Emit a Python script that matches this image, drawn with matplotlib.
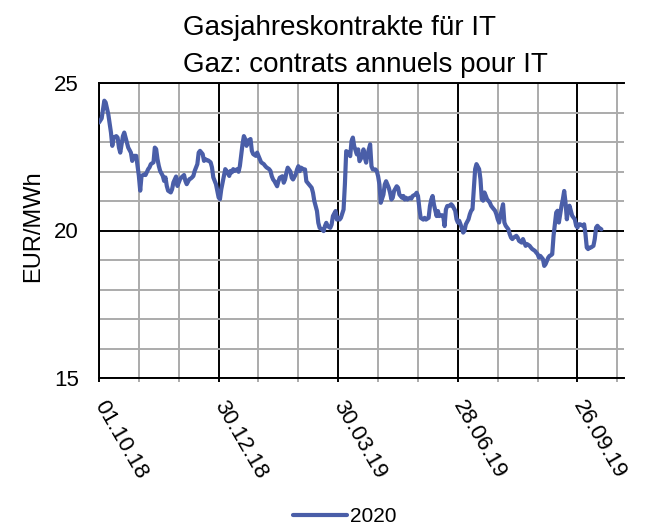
import matplotlib
matplotlib.use('Agg')
import matplotlib.pyplot as plt
import pandas as pd

plt.rcParams['font.family'] = ['Liberation Sans', 'DejaVu Sans']

# ---------------- data ----------------
start_date = '2018-10-01'
axis_span_days = 395

days = [
    0, 2, 4, 5, 7, 9, 10, 11, 13, 14,
    15, 16, 18, 19, 20, 21, 22, 24, 25, 26,
    28, 29, 30, 31, 32, 34, 35, 37, 38, 39,
    41, 42, 43, 44, 45, 46, 48, 49, 50, 51,
    52, 54, 55, 56, 58, 59, 60, 61, 62, 64,
    65, 66, 68, 69, 70, 71, 72, 74, 75, 76,
    78, 79, 80, 81, 82, 84, 85, 86, 88, 89,
    90, 91, 92, 94, 95, 96, 98, 99, 100, 101,
    102, 104, 105, 106, 108, 109, 110, 111, 112, 114,
    115, 116, 118, 119, 120, 121, 122, 124, 125, 126,
    128, 129,
    130, 131, 132, 134, 135, 136, 138, 139, 140, 141,
    142, 144, 145, 146, 148, 149, 150, 151, 152, 154,
    155, 156, 158, 159, 160, 161, 162, 164, 165, 166,
    168, 169, 170, 171, 172, 174, 175, 176, 178, 179,
    180, 181, 182, 184, 185, 186, 188, 189, 190, 191,
    192, 194, 195, 196, 198, 199, 200, 201, 202, 204,
    205, 206, 208, 209, 210, 211, 212, 214, 215, 216,
    218, 219, 220, 221, 222, 224, 225, 226, 228, 229,
    230, 231, 232, 234, 235, 236, 238, 239, 240, 241,
    242, 244, 245, 246, 248, 249, 250, 251, 252, 254,
    255, 256, 258, 259, 260, 261, 262,
    264, 265, 266, 268, 269, 270, 271, 272, 274, 275,
    276, 278, 279, 280, 281, 282, 283, 284, 286, 287,
    288, 289, 290, 291, 292, 294, 295, 296, 298, 299,
    300, 301, 302, 304, 305, 306, 308, 309, 310, 311,
    312, 314, 315, 316, 318, 319, 320, 321, 322, 324,
    325, 326, 328, 329, 330, 331, 332, 334, 335, 336,
    338, 339, 340, 341, 342, 344, 345, 346, 348, 349,
    350, 351, 352, 353, 354, 355, 356, 358, 359, 360,
    361, 362, 364, 365, 366, 367, 368, 369, 370, 372,
    373, 374, 375, 376, 378,
]

prices_2020 = [
    23.66, 23.8, 24.4, 24.34, 23.94, 23.32, 22.87, 23.15, 23.2, 23.15,
    22.81, 22.64, 23.2, 23.32, 23.15, 22.98, 22.81, 22.64, 22.36, 22.53,
    22.53, 22.19, 21.85, 21.35, 21.85, 21.9, 21.88, 22.08, 22.14, 22.25,
    22.31, 22.81, 22.76, 22.42, 22.19, 22.02, 21.85, 21.68, 21.8, 21.51,
    21.35, 21.29, 21.4, 21.63, 21.83, 21.51, 21.63, 21.74, 21.8, 21.88,
    21.68, 21.57, 21.74, 21.76, 21.8, 21.85, 22.02, 22.25, 22.64, 22.7,
    22.59, 22.36, 22.42, 22.38, 22.38, 22.31, 22.14, 21.8, 21.57, 21.35,
    21.12, 21.06, 21.4, 21.85, 22.08, 22.02, 21.85, 22.02, 21.97, 22.08,
    22.02, 22.08, 21.99, 22.19, 22.93, 23.2, 23.1, 22.87, 23.04, 23.1,
    22.7, 22.59, 22.53, 22.64, 22.53, 22.42, 22.31, 22.25, 22.19, 22.14,
    22.08, 22.02,
    21.84, 21.73, 21.67, 21.5, 21.67, 21.79, 21.84, 21.62, 21.73, 21.96,
    22.13, 22.0, 21.79, 21.73, 21.9, 22.07, 22.18, 22.01, 22.13, 22.07,
    22.07, 21.67, 21.56, 21.5, 21.45, 21.28, 21.0, 20.66, 20.26, 20.09,
    20.03, 19.98, 20.15, 20.26, 20.15, 20.09, 20.2, 20.49, 20.66, 20.37,
    20.43, 20.37, 20.43, 20.71, 21.56, 22.69, 22.64, 22.52, 23.03, 23.15,
    22.86, 22.58, 22.75, 22.35, 22.52, 22.75, 22.47, 22.3, 22.58, 22.92,
    22.18, 22.07, 22.07, 22.01, 21.84, 21.56, 20.94, 21.22, 21.56, 21.67,
    21.45, 21.28, 21.05, 21.11, 21.34, 21.5, 21.45, 21.22, 21.11, 21.17,
    21.05, 21.11, 21.05, 21.11, 21.08, 21.17, 21.22, 21.28, 21.17, 20.77,
    20.43, 20.37, 20.43, 20.37, 20.43, 20.83, 21.05, 21.17, 20.88, 20.49,
    20.66, 20.49, 20.52, 20.49, 20.15, 20.71, 20.83,
    20.84, 20.89, 20.84, 20.67, 20.38, 20.27, 20.33, 20.21, 19.93, 19.99,
    20.21, 20.38, 20.55, 20.67, 20.72, 21.4, 22.08, 22.25, 22.08, 21.74,
    21.06, 21.01, 21.29, 21.18, 21.06, 20.95, 20.84, 20.78, 20.67, 20.55,
    20.38, 20.27, 20.5, 20.89, 20.27, 20.16, 20.04, 19.88, 19.76, 19.71,
    19.76, 19.82, 19.76, 19.65, 19.59, 19.71, 19.59, 19.48, 19.54, 19.48,
    19.42, 19.37, 19.31, 19.25, 19.2, 19.08, 19.14, 19.03, 18.8, 18.86,
    19.08, 19.14, 19.16, 19.2, 19.82, 20.61, 20.67, 20.27, 20.84, 21.06,
    21.34, 20.95, 20.38, 20.72, 20.84, 20.67, 20.5, 20.38, 20.16, 20.1,
    20.21, 20.21, 20.16, 20.21, 19.88, 19.42, 19.37, 19.42, 19.42, 19.48,
    19.71, 20.1, 20.16, 20.1, 20.04,
]

series_name = '2020'
major_tick_days = [0, 90, 180, 270, 360]
minor_tick_days = [30, 60, 120, 150, 210, 240, 300, 330, 390]
tick_labels = ['01.10.18', '30.12.18', '30.03.19', '28.06.19', '26.09.19']
y_major = [15, 20, 25]
y_minor = [16, 17, 18, 19, 21, 22, 23, 24]
title_lines = ['Gasjahreskontrakte für IT', 'Gaz: contrats annuels pour IT']
y_label = 'EUR/MWh'

# ---------------- plot ----------------
W, H = 648, 529
fig = plt.figure(figsize=(W / 100, H / 100), dpi=100)
ax = fig.add_axes([99 / W, 1 - 378 / H, 525 / W, 295 / H])

t0 = pd.Timestamp(start_date)
to_dates = lambda d: t0 + pd.to_timedelta(d, unit='D')

line_color = '#4A5EA8'
grid_gray = '#ABABAB'

ax.plot(to_dates(days), prices_2020, color=line_color, lw=3.0,
        solid_joinstyle='round', solid_capstyle='round', zorder=5, label=series_name)

ax.set_xlim(t0, to_dates(axis_span_days))
ax.set_ylim(15, 25)

ax.set_xticks(to_dates(major_tick_days))
ax.set_xticks(to_dates(minor_tick_days), minor=True)
ax.set_xticklabels(tick_labels, rotation=-60, ha='left', va='center',
                   rotation_mode='anchor')
ax.set_yticks(y_major)
ax.set_yticks(y_minor, minor=True)

ax.grid(which='major', color='black', lw=1.4)
ax.grid(which='minor', color=grid_gray, lw=1.4)

ax.tick_params(axis='y', which='both', length=0, pad=14.4, labelsize=16)
ax.tick_params(axis='x', which='major', length=3, width=1.4, color='black',
               pad=14.5, labelsize=16, direction='out')
ax.tick_params(axis='x', which='minor', length=3, width=1.4, color=grid_gray,
               direction='out')

for s in ['left', 'bottom', 'top']:
    ax.spines[s].set_color('black')
    ax.spines[s].set_linewidth(1.4)
ax.spines['right'].set_visible(False)

fig.text(183 / W, 1 - 35 / H, title_lines[0], ha='left', va='baseline', fontsize=20)
fig.text(183 / W, 1 - 72 / H, title_lines[1], ha='left', va='baseline', fontsize=20)

fig.text(33 / W, 1 - 226 / H, y_label, rotation=90, ha='center', va='center', fontsize=17)

fig.legend(loc='center', bbox_to_anchor=(345 / W, 1 - 517 / H), frameon=False,
           fontsize=15, handlelength=2.6, handletextpad=0.15, borderpad=0,
           borderaxespad=0)

fig.savefig('out.png', dpi=100)
